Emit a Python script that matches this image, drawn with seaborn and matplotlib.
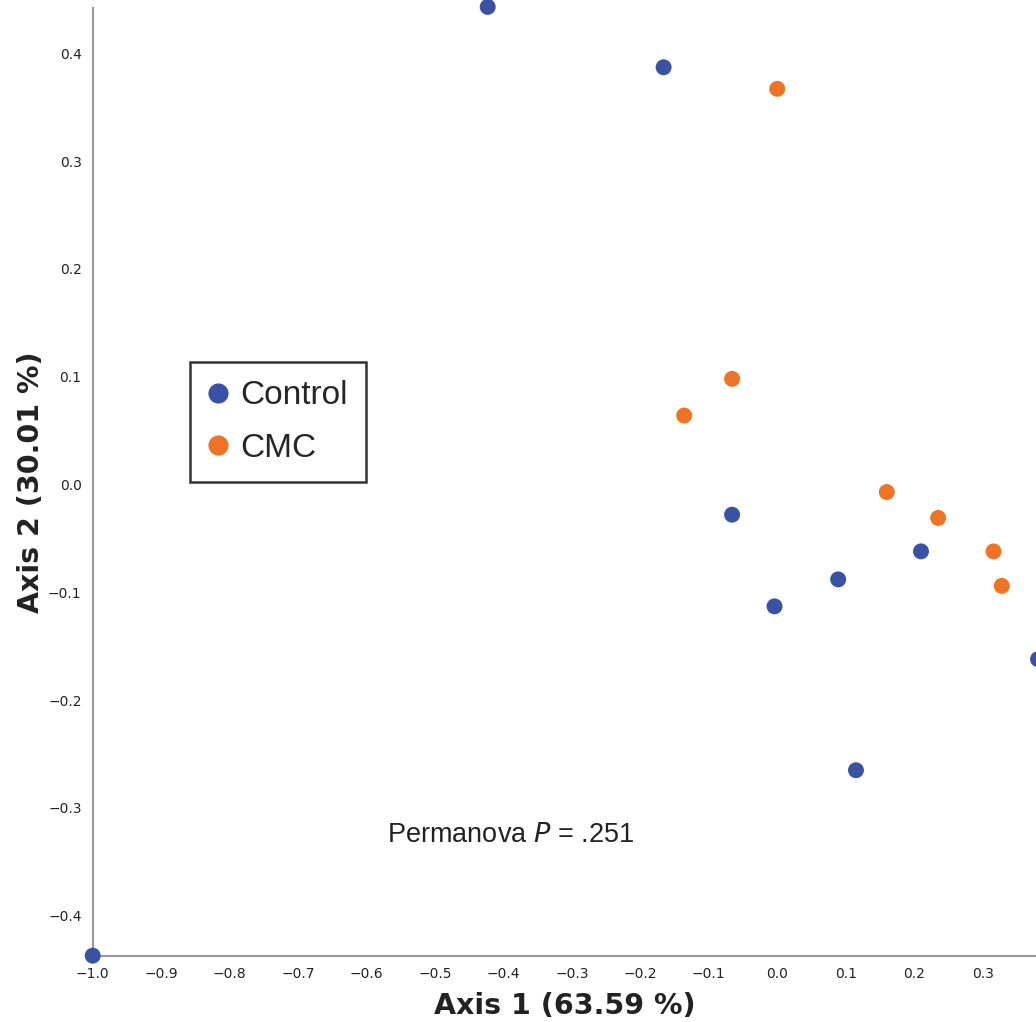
import matplotlib
matplotlib.use("Agg")
import matplotlib.pyplot as plt
import seaborn as sns
import pandas as pd

control_x = [-0.423, -0.166, -0.066, -0.004, 0.089, 0.210, 0.115, 0.381, -1.0]
control_y = [0.443, 0.387, -0.028, -0.113, -0.088, -0.062, -0.265, -0.162, -0.437]
cmc_x = [0.000, -0.066, -0.136, 0.160, 0.235, 0.316, 0.328]
cmc_y = [0.367, 0.098, 0.064, -0.007, -0.031, -0.062, -0.094]
groups = ["Control", "CMC"]
colors = {"Control": "#3a52a3", "CMC": "#ef7325"}
x_ticks = [-1.0, -0.9, -0.8, -0.7, -0.6, -0.5, -0.4, -0.3, -0.2, -0.1, 0.0, 0.1, 0.2, 0.3]
y_ticks = [-0.4, -0.3, -0.2, -0.1, 0.0, 0.1, 0.2, 0.3, 0.4]

df = pd.DataFrame({
    "x": control_x + cmc_x,
    "y": control_y + cmc_y,
    "group": ["Control"] * len(control_x) + ["CMC"] * len(cmc_x),
})

sns.set_style("white")
plt.rcParams["font.family"] = ["DejaVu Sans"]

fig = plt.figure(figsize=(10.36, 10.22), dpi=100)
ax = fig.add_axes([0.0895, 0.0649, 1 - 0.0895, 0.9922 - 0.0649])

sns.scatterplot(data=df, x="x", y="y", hue="group", hue_order=groups,
                palette=colors, s=132, linewidth=0, ax=ax, clip_on=False,
                legend=False, zorder=3)

ax.set_xlim(-1.0, 0.378)
ax.set_ylim(-0.437, 0.442)
ax.set_xticks(x_ticks)
ax.set_yticks(y_ticks)
ax.set_xticklabels([f"{v:.1f}".replace("-", "\u2212") for v in x_ticks])
ax.set_yticklabels([f"{v:.1f}".replace("-", "\u2212") for v in y_ticks])
ax.tick_params(axis="both", labelsize=10, length=5, width=1.2, color="#999999",
               labelcolor="#222222", pad=3)
for side in ["top", "right"]:
    ax.spines[side].set_visible(False)
for side in ["left", "bottom"]:
    ax.spines[side].set_color("#999999")
    ax.spines[side].set_linewidth(1.5)

ax.set_xlabel("Axis 1 (63.59 %)", fontsize=20.5, fontweight="bold", color="#222222", labelpad=8)
ax.set_ylabel("Axis 2 (30.01 %)", fontsize=20.5, fontweight="bold", color="#222222", labelpad=2)

handles = [plt.Line2D([], [], marker="o", linestyle="", markersize=14.5,
                      markerfacecolor=colors[g], markeredgewidth=0) for g in groups]
leg = ax.legend(handles, groups, loc="upper left", bbox_to_anchor=(0.103, 0.6265),
                prop={"family": "Liberation Sans", "size": 24}, frameon=True,
                fancybox=False, edgecolor="black", handletextpad=0.35,
                borderpad=0.55, labelspacing=0.65, handlelength=0.6, borderaxespad=0)
leg.get_frame().set_linewidth(1.8)

ax.text(-0.570, -0.325, "Permanova $\\it{P}$ = .251", fontsize=19.5,
        family="Liberation Sans", color="#222222", ha="left", va="center")

fig.savefig("out.png", dpi=100)
